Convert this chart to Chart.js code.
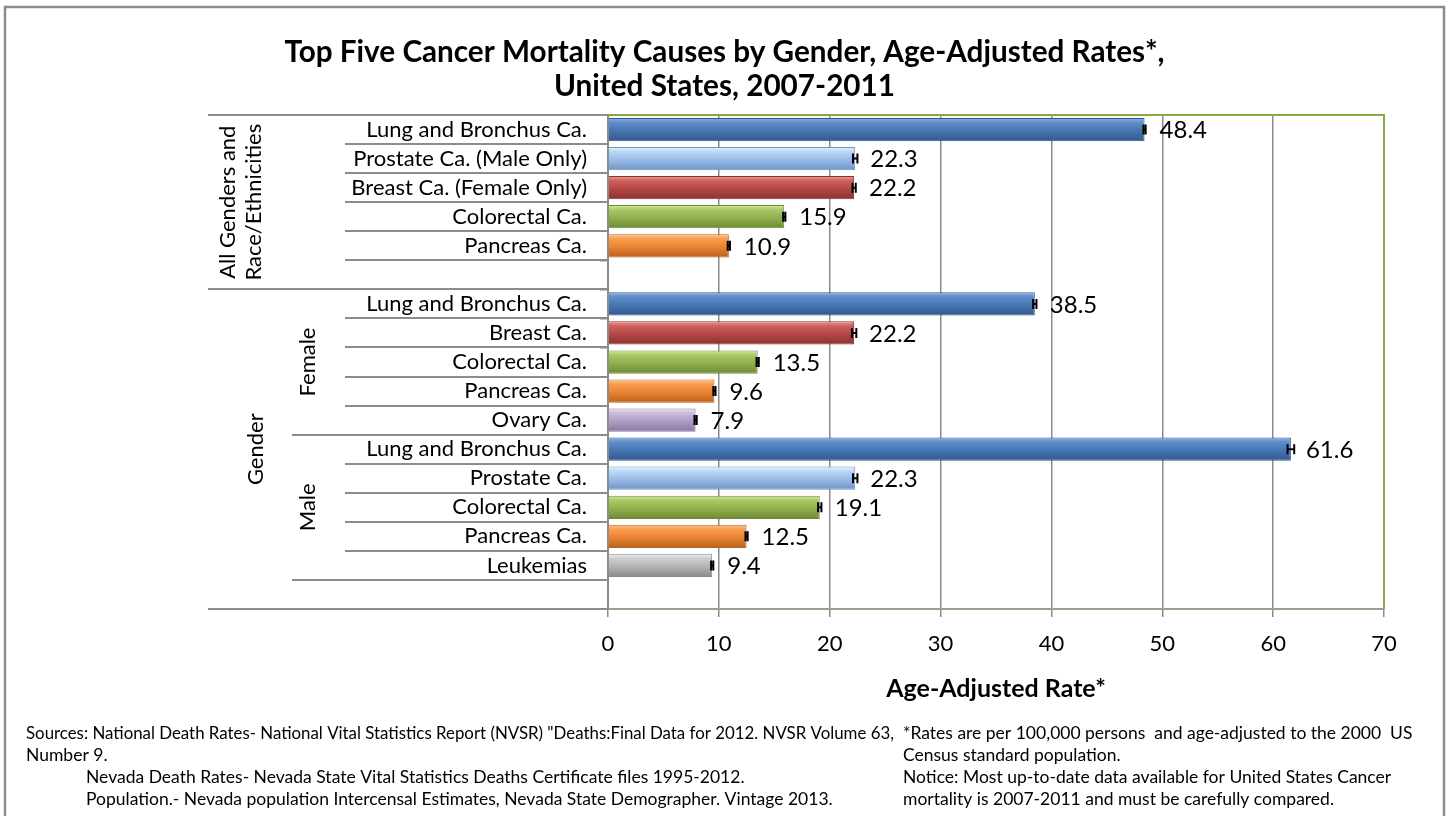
<!DOCTYPE html>
<html>
<head>
<meta charset="utf-8">
<script src="https://cdn.jsdelivr.net/npm/chart.js@4.4.0/dist/chart.umd.min.js"></script>
<style>
html, body { margin: 0; padding: 0; background: #fff; }
canvas { display: block; }
</style>
</head>
<body>
<canvas id="graficoCancer" width="1449" height="816"></canvas>
<script>
// --- DADOS ---
const categorias = [
    'Lung and Bronchus Ca.', 'Prostate Ca. (Male Only)', 'Breast Ca. (Female Only)', 'Colorectal Ca.', 'Pancreas Ca.', '',
    'Lung and Bronchus Ca.', 'Breast Ca.', 'Colorectal Ca.', 'Pancreas Ca.', 'Ovary Ca.',
    'Lung and Bronchus Ca.', 'Prostate Ca.', 'Colorectal Ca.', 'Pancreas Ca.', 'Leukemias', ''
];
const taxas = [48.4, 22.3, 22.2, 15.9, 10.9, null, 38.5, 22.2, 13.5, 9.6, 7.9, 61.6, 22.3, 19.1, 12.5, 9.4, null];
const erros = [0.1, 0.2, 0.15, 0.1, 0.1, null, 0.15, 0.2, 0.1, 0.1, 0.1, 0.3, 0.2, 0.15, 0.1, 0.1, null];
const tipos = ['lung', 'prostate', 'breast', 'colorectal', 'pancreas', null,
    'lung', 'breast', 'colorectal', 'pancreas', 'ovary',
    'lung', 'prostate', 'colorectal', 'pancreas', 'leukemia', null];
const grupoNivel1 = [
    { texto: ['All Genders and', 'Race/Ethnicities'], inicio: 0, fim: 5 },
    { texto: ['Gender'], inicio: 6, fim: 16 }
];
const grupoNivel2 = [
    { texto: ['Female'], inicio: 6, fim: 10 },
    { texto: ['Male'], inicio: 11, fim: 15 }
];
const eixoMin = 0, eixoMax = 70, eixoPasso = 10;
const titulo = ['Top Five Cancer Mortality Causes by Gender, Age-Adjusted Rates*,', 'United States, 2007-2011'];
const tituloEixoX = 'Age-Adjusted Rate*';
const notasEsq = [
    'Sources: National Death Rates- National Vital Statistics Report (NVSR) "Deaths:Final Data for 2012. NVSR Volume 63,',
    'Number 9.',
    'Nevada Death Rates- Nevada State Vital Statistics Deaths Certificate files 1995-2012.',
    'Population.- Nevada population Intercensal Estimates, Nevada State Demographer. Vintage 2013.'
];
const notasDir = [
    '*Rates are per 100,000 persons  and age-adjusted to the 2000  US',
    'Census standard population.',
    'Notice: Most up-to-date data available for United States Cancer',
    'mortality is 2007-2011 and must be carefully compared.'
];

// cores (topo, claro, base, escuro)
const paleta = {
    lung:       ['#8fb2e2', '#5f8dcb', '#4676b2', '#33578a'],
    prostate:   ['#e4f3ff', '#bcd8f6', '#98bbe6', '#7094c6'],
    breast:     ['#ec9b99', '#cf605d', '#b44744', '#8a3331'],
    colorectal: ['#d3eca0', '#a9c866', '#90b04f', '#6c8a36'],
    pancreas:   ['#fdc896', '#f99c4e', '#ea8433', '#b9621d'],
    ovary:      ['#ece4f5', '#c9bbdb', '#ae9dc4', '#8a779f'],
    leukemia:   ['#f2f2f2', '#cfcfcf', '#b3b3b3', '#8a8a8a']
};

const FONTE = 'Lato, "Open Sans", sans-serif';
const CINZA = '#8c8c8c';

function gradienteBarra(context) {
    const chart = context.chart;
    const y = chart.scales.y;
    const c = paleta[tipos[context.dataIndex]] || paleta.lung;
    if (!y || context.type !== 'data') return c[2];
    const yc = y.getPixelForValue(context.dataIndex);
    const meia = y.height / categorias.length * 0.8 / 2;
    if (!isFinite(yc) || !isFinite(meia) || meia <= 0) return c[2];
    const g = chart.ctx.createLinearGradient(0, yc - meia, 0, yc + meia);
    g.addColorStop(0, c[0]);
    g.addColorStop(0.2, c[1]);
    g.addColorStop(0.55, c[2]);
    g.addColorStop(1, c[3]);
    return g;
}

// --- PLUGIN: moldura, linhas de grupo, barras de erro, rótulos e notas ---
const extras = {
    id: 'extras',
    beforeDraw(chart) {
        const ctx = chart.ctx;
        ctx.save();
        ctx.fillStyle = '#fff';
        ctx.fillRect(0, 0, chart.width, chart.height);
        ctx.strokeStyle = CINZA;
        ctx.lineWidth = 2.5;
        ctx.strokeRect(5, 7, 1439, 840);
        ctx.restore();
    },
    afterDraw(chart) {
        const ctx = chart.ctx;
        const area = chart.chartArea;
        const x = chart.scales.x;
        const y = chart.scales.y;
        const passo = y.height / categorias.length;
        const limite = i => area.top + passo * i;

        ctx.save();
        // linhas horizontais da área de categorias
        ctx.strokeStyle = CINZA;
        ctx.lineWidth = 2;
        for (let b = 0; b <= categorias.length; b++) {
            let x0 = 345;
            if (grupoNivel1.some(g => g.inicio === b) || b === categorias.length) x0 = 208;
            else if (grupoNivel2.some(g => g.inicio === b || g.fim + 1 === b)) x0 = 292;
            const yy = Math.round(limite(b));
            ctx.beginPath();
            ctx.moveTo(x0, yy);
            ctx.lineTo(area.left, yy);
            ctx.stroke();
        }

        // borda superior e direita da área do gráfico
        ctx.strokeStyle = '#86a845';
        ctx.lineWidth = 2;
        ctx.beginPath();
        ctx.moveTo(area.left, area.top);
        ctx.lineTo(area.right, area.top);
        ctx.lineTo(area.right, area.bottom);
        ctx.stroke();

        // rótulos de grupo rotacionados
        ctx.fillStyle = '#000';
        ctx.font = '22px ' + FONTE;
        ctx.textAlign = 'center';
        ctx.textBaseline = 'middle';
        const rotulo = (g, xc) => {
            const yc = (limite(g.inicio) + limite(g.fim + 1)) / 2;
            ctx.save();
            ctx.translate(xc, yc);
            ctx.rotate(-Math.PI / 2);
            g.texto.forEach((t, k) => {
                ctx.fillText(t, 0, (k - (g.texto.length - 1) / 2) * 26);
            });
            ctx.restore();
        };
        rotulo(grupoNivel1[0], 241);
        rotulo(grupoNivel1[1], 256);
        grupoNivel2.forEach(g => rotulo(g, 308));

        // barras de erro e valores
        const meta = chart.getDatasetMeta(0);
        meta.data.forEach((barra, i) => {
            if (taxas[i] == null) return;
            const x1 = x.getPixelForValue(taxas[i] - erros[i]);
            const x2 = x.getPixelForValue(taxas[i] + erros[i]);
            const yc = barra.y;
            ctx.strokeStyle = '#000';
            ctx.lineWidth = 2;
            ctx.beginPath();
            ctx.moveTo(x1, yc - 5); ctx.lineTo(x1, yc + 5);
            ctx.moveTo(x2, yc - 5); ctx.lineTo(x2, yc + 5);
            ctx.moveTo(x1, yc); ctx.lineTo(x2, yc);
            ctx.stroke();
            ctx.fillStyle = '#000';
            ctx.font = '24px ' + FONTE;
            ctx.textAlign = 'left';
            ctx.textBaseline = 'middle';
            ctx.fillText(taxas[i].toFixed(1), x.getPixelForValue(taxas[i]) + 15, yc + 1);
        });

        // notas de rodapé
        ctx.font = '17.5px ' + FONTE;
        ctx.textAlign = 'left';
        ctx.textBaseline = 'middle';
        notasEsq.forEach((t, k) => ctx.fillText(t, k < 2 ? 26 : 86, 733 + k * 22, 868));
        notasDir.forEach((t, k) => ctx.fillText(t, 903, 733 + k * 22));
        ctx.restore();
    }
};

// --- GRÁFICO ---
new Chart(document.getElementById('graficoCancer'), {
    type: 'bar',
    data: {
        labels: categorias,
        datasets: [{
            data: taxas,
            backgroundColor: gradienteBarra,
            borderColor: ctx => (paleta[tipos[ctx.dataIndex]] || paleta.lung)[3],
            borderWidth: 1,
            barPercentage: 0.8,
            categoryPercentage: 1
        }]
    },
    options: {
        indexAxis: 'y',
        responsive: false,
        animation: false,
        layout: { padding: { left: 65, right: 65, top: 0, bottom: 0 } },
        scales: {
            x: {
                min: eixoMin,
                max: eixoMax,
                ticks: { stepSize: eixoPasso, color: '#000', padding: 14, font: { family: FONTE, size: 22 } },
                grid: { color: CINZA, lineWidth: 1.5, tickLength: 8, tickColor: CINZA },
                border: { color: '#9aa08b', width: 2 },
                title: {
                    display: true,
                    text: tituloEixoX,
                    color: '#000',
                    font: { family: FONTE, size: 25, weight: 'bold' },
                    padding: { top: 0, bottom: 112 }
                },
                afterFit(scale) { scale.height = 207; }
            },
            y: {
                ticks: { color: '#000', padding: 13, autoSkip: false, font: { family: FONTE, size: 22 } },
                grid: { drawOnChartArea: false, tickLength: 8, tickColor: CINZA, lineWidth: 1.5 },
                border: { color: CINZA, width: 2 },
                afterFit(scale) { scale.width = 543; }
            }
        },
        plugins: {
            legend: { display: false },
            tooltip: { enabled: false },
            title: {
                display: true,
                text: titulo,
                color: '#000',
                font: { family: FONTE, size: 29.7, weight: 'bold', lineHeight: 1.145 },
                padding: { top: 35, bottom: 12 }
            }
        }
    },
    plugins: [extras]
});
</script>
</body>
</html>
